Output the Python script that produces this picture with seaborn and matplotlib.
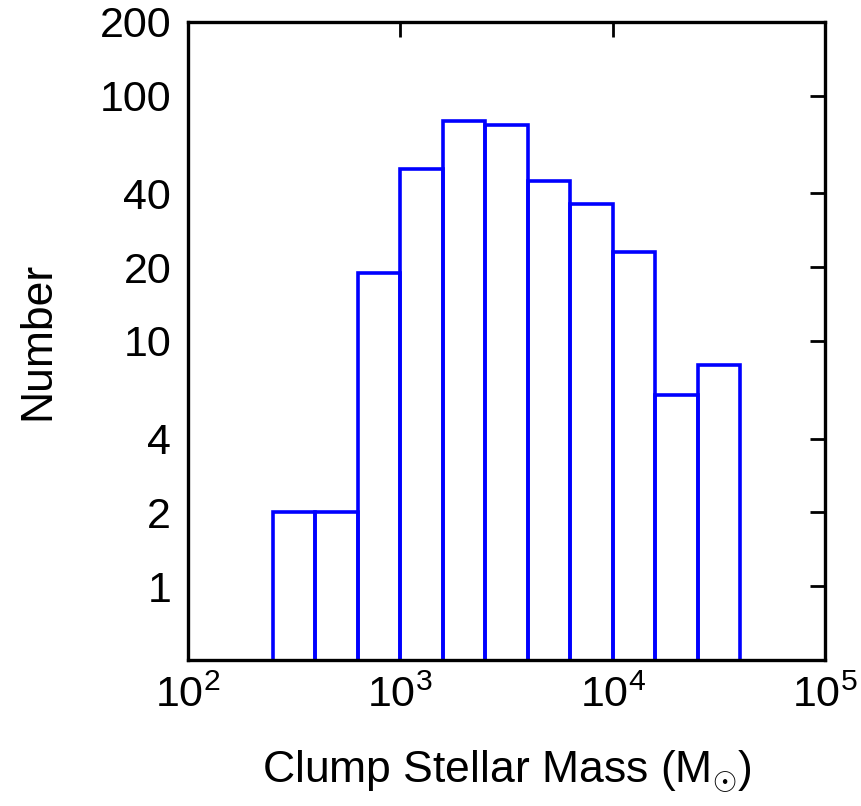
import numpy as np
import pandas as pd
import matplotlib
matplotlib.use("Agg")
import matplotlib.pyplot as plt
import matplotlib.ticker as mticker
import seaborn as sns

# bin edges in log10(M) and counts per bin
LOG_EDGES = [2.4, 2.6, 2.8, 3.0, 3.2, 3.4, 3.6, 3.8, 4.0, 4.2, 4.4, 4.6]
COUNTS = [2, 2, 19, 50, 79, 76, 45, 36, 23, 6, 8]
Y_TICKS = [1, 2, 4, 10, 20, 40, 100, 200]
X_TICKS = [1e2, 1e3, 1e4, 1e5]

edges = np.power(10.0, LOG_EDGES)
centers = np.sqrt(edges[:-1] * edges[1:])
df = pd.DataFrame({"mass": centers, "n": COUNTS})

sns.set_style("white")
plt.rcParams["font.family"] = ["Liberation Sans", "DejaVu Sans"]
plt.rcParams["mathtext.fontset"] = "custom"
plt.rcParams["mathtext.rm"] = "Liberation Sans"
plt.rcParams["mathtext.it"] = "Liberation Sans:italic"
plt.rcParams["text.color"] = "black"
plt.rcParams["axes.labelcolor"] = "black"
plt.rcParams["xtick.color"] = "black"
plt.rcParams["ytick.color"] = "black"

fig = plt.figure(figsize=(8.62, 8.06), dpi=100)
ax = fig.add_axes([0.218, 0.181, 0.739, 0.792])

sns.histplot(data=df, x="mass", weights="n", bins=list(edges), ax=ax,
             fill=False, color="#0000ff", linewidth=2.6, element="bars")
ax.set_xscale("log")
ax.set_yscale("log")
ax.set_xlim(1e2, 1e5)
ax.set_ylim(0.5, 200)

ax.yaxis.set_major_locator(mticker.FixedLocator(Y_TICKS))
ax.yaxis.set_major_formatter(mticker.FixedFormatter([str(v) for v in Y_TICKS]))
ax.yaxis.set_minor_locator(mticker.NullLocator())
ax.xaxis.set_major_locator(mticker.FixedLocator(X_TICKS))
ax.xaxis.set_minor_locator(mticker.NullLocator())
ax.xaxis.set_major_formatter(mticker.LogFormatterSciNotation())

ax.tick_params(direction="in", top=True, right=True, length=11, width=2,
               labelsize=31, color="black", labelcolor="black")
ax.tick_params(axis="y", pad=12)
ax.tick_params(axis="x", pad=11)
for s in ax.spines.values():
    s.set_visible(True)
    s.set_linewidth(2.4)
    s.set_color("black")

ax.set_xlabel(r"Clump Stellar Mass (M$_{\odot}$)", fontsize=32, labelpad=24)
ax.set_ylabel("Number", fontsize=32, labelpad=30)

fig.savefig("out.png", dpi=100)
